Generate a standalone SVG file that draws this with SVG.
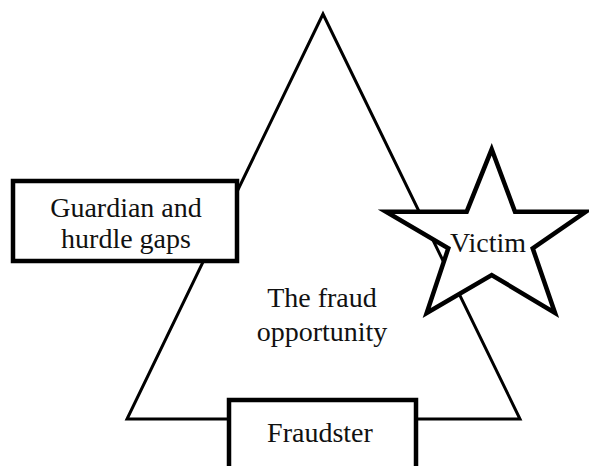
<svg xmlns="http://www.w3.org/2000/svg" width="589" height="466" viewBox="0 0 589 466">
  <style>
    .shape { fill: #ffffff; stroke: #000000; stroke-width: 4.5; stroke-linejoin: miter; }
    .outline { fill: none; stroke: #000000; stroke-width: 3; stroke-linejoin: miter; }
    .label { font-family: "Liberation Serif", "Times New Roman", serif; font-size: 28px; fill: #111111; text-anchor: middle; }
  </style>
  <rect width="589" height="466" fill="#ffffff"/>

  <!-- central triangle -->
  <g id="opportunity">
    <polygon class="outline" points="323,14 127,419 520,419"/>
    <text class="label" x="322" y="307">The fraud</text>
    <text class="label" x="322" y="341">opportunity</text>
  </g>

  <!-- left box -->
  <g id="guardian">
    <rect class="shape" x="13" y="181" width="224" height="80"/>
    <text class="label" x="126" y="217">Guardian and</text>
    <text class="label" x="126" y="248">hurdle gaps</text>
  </g>

  <!-- victim star -->
  <g id="victim">
    <polygon class="shape" points="491.7,149.3 515,211.7 586,211.7 532.7,248.3 555,313 491.7,275 426.7,313 448.3,248.3 386,211.7 466.7,211.7"/>
    <text class="label" x="488" y="252">Victim</text>
  </g>

  <!-- fraudster box -->
  <g id="fraudster">
    <rect class="shape" x="229" y="400" width="187" height="80"/>
    <text class="label" x="320" y="442">Fraudster</text>
  </g>
</svg>
